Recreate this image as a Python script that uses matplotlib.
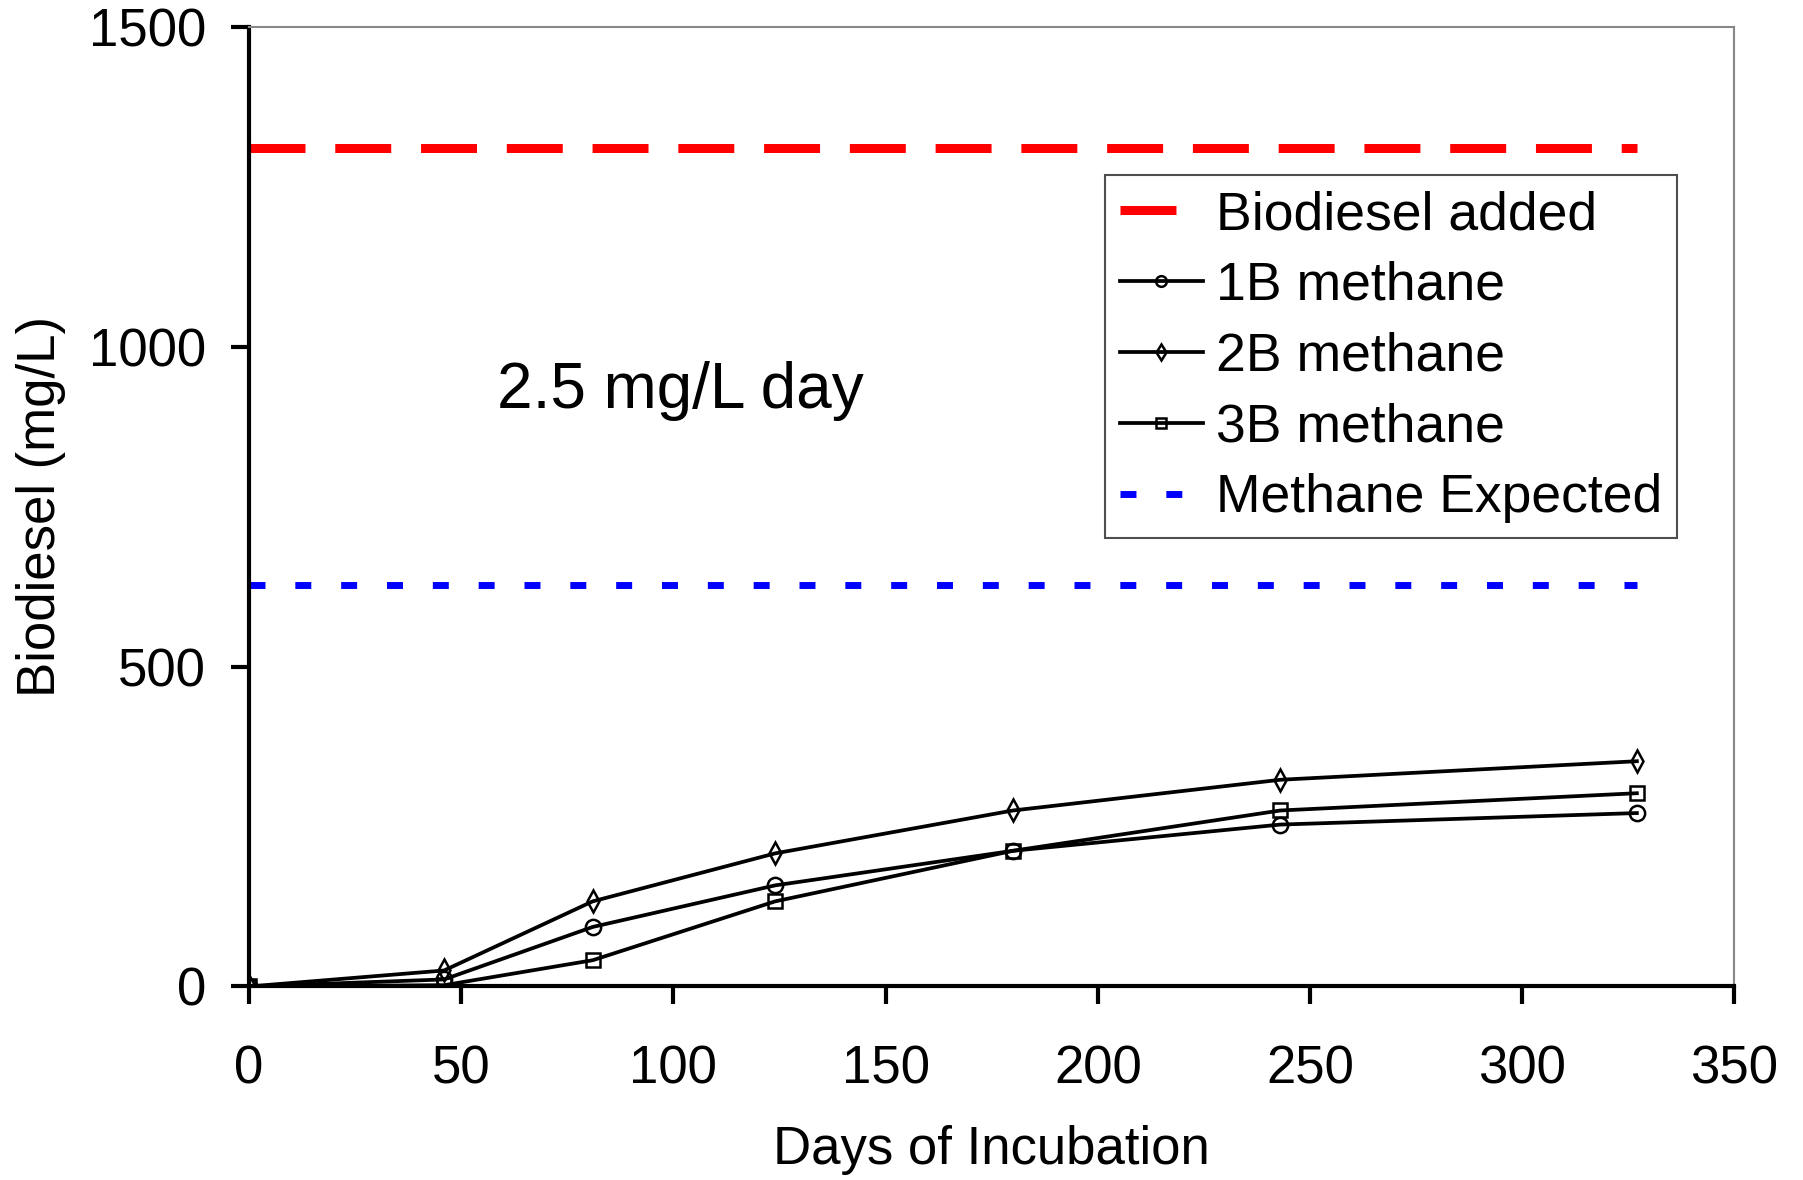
import matplotlib
matplotlib.use("Agg")
import matplotlib.pyplot as plt

plt.rcParams['font.family'] = ['Liberation Sans', 'DejaVu Sans']

# Sampling days and cumulative methane (as biodiesel equivalent, mg/L)
days = [0, 46, 81, 124, 180, 243, 327]
methane_1b = [0, 11, 93, 158, 212, 253, 271]
methane_2b = [0, 25, 133, 208, 275, 323, 352]
methane_3b = [0, 2, 41, 133, 212, 275, 302]

biodiesel_added = 1311
methane_expected = 627
line_span = [0, 327]

fig = plt.figure(figsize=(18.03, 11.8), dpi=100)
ax = fig.add_axes([0.138, 0.164, 0.824, 0.8135])

ax.plot(line_span, [biodiesel_added] * 2, color='red', lw=6.5,
        dashes=(6.2, 3.3), label='Biodiesel added')
ax.plot(days, methane_1b, color='black', lw=2.7, marker='o', ms=11,
        mfc='none', mew=1.8, label='1B methane')
ax.plot(days, methane_2b, color='black', lw=2.7, marker='d', ms=11,
        mfc='none', mew=1.8, label='2B methane')
ax.plot(days, methane_3b, color='black', lw=2.7, marker='s', ms=10,
        mfc='none', mew=1.8, label='3B methane')
ax.plot(line_span, [methane_expected] * 2, color='blue', lw=5,
        dashes=(2.3, 4.3), label='Methane Expected')

ax.text(58.4, 904, '2.5 mg/L day', fontsize=46, ha='left', va='baseline')

ax.set_xlim(0, 350)
ax.set_ylim(0, 1500)
ax.set_xticks(range(0, 351, 50))
ax.set_yticks([0, 500, 1000, 1500])
ax.tick_params(labelsize=38, width=3, length=13, direction='out')
ax.tick_params(axis='x', pad=29)
ax.tick_params(axis='y', pad=18)

for side in ['left', 'bottom']:
    ax.spines[side].set_linewidth(3)
for side in ['top', 'right']:
    ax.spines[side].set_linewidth(1.5)
    ax.spines[side].set_color('#888888')

ax.set_xlabel('Days of Incubation', fontsize=38, labelpad=22)
ax.set_ylabel('Biodiesel (mg/L)', fontsize=38, labelpad=16)

leg = ax.legend(loc='upper left', bbox_to_anchor=(0.5763, 0.8453),
                borderaxespad=0, fontsize=38.5, frameon=True, fancybox=False,
                handlelength=1.55, handletextpad=0.24, labelspacing=0.39,
                borderpad=0.28, markerscale=0.7)
leg.get_frame().set_edgecolor('#222222')
leg.get_frame().set_linewidth(1.5)

fig.savefig('out.png', dpi=100)
